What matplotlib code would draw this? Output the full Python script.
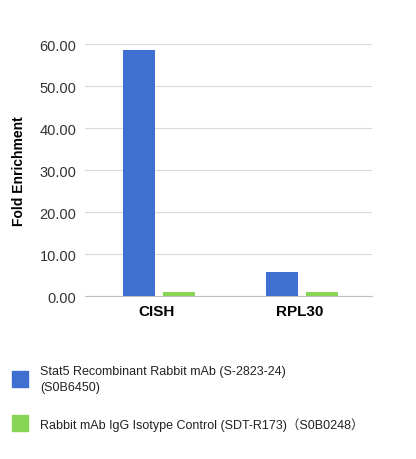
import matplotlib
matplotlib.use("Agg")
import matplotlib.pyplot as plt
import numpy as np
from matplotlib.patches import Rectangle

categories = ["CISH", "RPL30"]
stat5 = [58.5, 5.8]
igg = [0.9, 0.9]
series_names = ["Stat5 Recombinant Rabbit mAb (S-2823-24)\n(S0B6450)",
                "Rabbit mAb IgG Isotype Control (SDT-R173)\uff08S0B0248\uff09"]
yticks = [0, 10, 20, 30, 40, 50, 60]

plt.rcParams['font.family'] = ['Liberation Sans', 'Noto Sans CJK SC', 'DejaVu Sans']
fig = plt.figure(figsize=(4.16, 4.6), dpi=100)
ax = fig.add_axes([0.204, 0.354, 0.69, 0.548])
x = np.arange(len(categories))
w = 0.223
ax.bar(x - 0.126, stat5, w, color="#3F6FD1", zorder=3)
ax.bar(x + 0.154, igg, w, color="#88D555", zorder=3)
ax.set_xlim(-0.5, 1.5)
ax.set_ylim(0, 60)
ax.set_yticks(yticks)
ax.set_yticklabels([f"{v:.2f}" for v in yticks], fontsize=10.5, color="#333333")
ax.set_xticks(x)
ax.set_xticklabels(categories, fontsize=11, fontweight="bold")
ax.tick_params(length=0, pad=6)
ax.grid(axis="y", color="#d9d9d9", lw=0.8, zorder=0)
for s in ["top", "right", "left"]:
    ax.spines[s].set_visible(False)
ax.spines["bottom"].set_color("#bfbfbf")
ax.set_ylabel("Fold Enrichment", fontsize=10, fontweight="bold", labelpad=10)

fig.patches.append(Rectangle((12/416, 1-388/460), 16/416, 16/460, color="#3F6FD1", transform=fig.transFigure))
fig.patches.append(Rectangle((12/416, 1-432/460), 16/416, 16/460, color="#88D555", transform=fig.transFigure))
fig.text(40/416, 1-380/460, series_names[0], fontsize=9, va="center", linespacing=1.45, color="#222222")
fig.text(40/416, 1-425/460, series_names[1], fontsize=9, va="center", color="#222222")
fig.savefig("out.png", dpi=100)
